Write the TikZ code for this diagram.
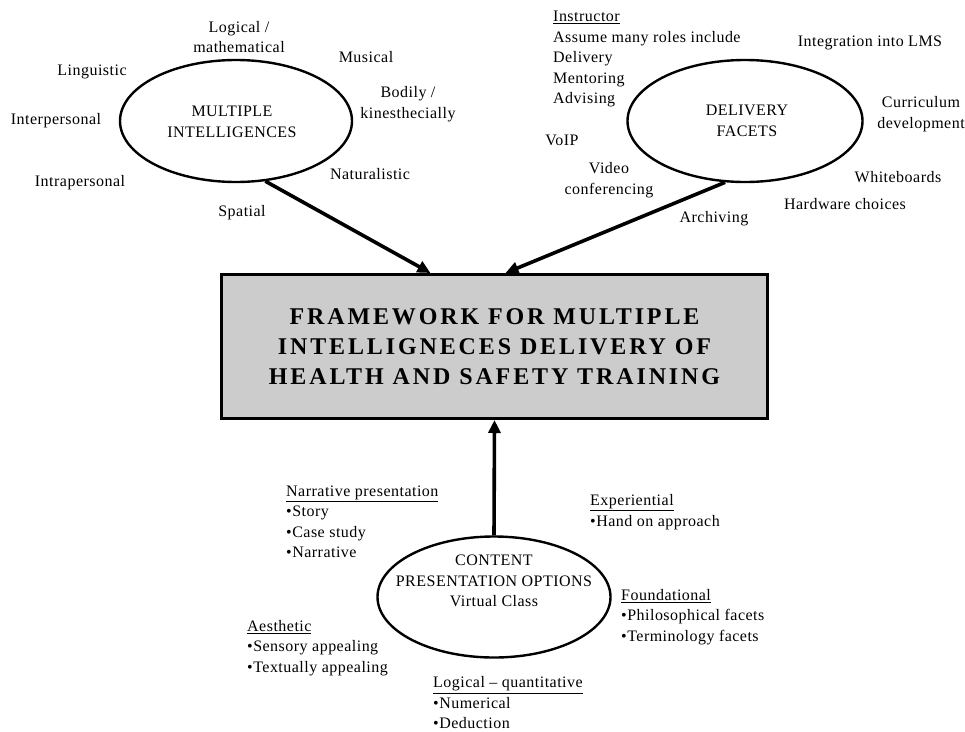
\documentclass[tikz,border=0pt]{standalone}
\usepackage{fontspec}
\setmainfont[LetterSpace=3]{Liberation Serif}
\newfontfamily\titlefont[LetterSpace=12]{Liberation Serif}
\usetikzlibrary{shapes.geometric,arrows.meta,calc}

\begin{document}
\begin{tikzpicture}[x=1pt,y=-1pt,
  txt/.style={font=\fontsize{16}{20.5}\selectfont,inner sep=0pt,align=center},
  lst/.style={txt,align=left,anchor=west},
  oval/.style={draw,ellipse,line width=2.4pt,inner sep=0pt},
  link/.style={line width=3.6pt,-{Triangle[length=13pt,width=12pt]}}]

\useasboundingbox (0,0) rectangle (965,731);

% ovals and the main box
\node[oval,minimum width=232,minimum height=122] (mi) at (236,121) {};
\node[oval,minimum width=235,minimum height=122] (df) at (745,121) {};
\node[oval,minimum width=233,minimum height=121] (cp) at (494,597) {};
\node[draw,line width=3pt,fill=black!20,minimum width=546,minimum height=144,
  inner sep=0pt,align=center,font=\titlefont\fontsize{24}{30}\selectfont\bfseries]
  (fw) at (494.5,346.5) {FRAMEWORK FOR MULTIPLE\\INTELLIGNECES DELIVERY OF\\HEALTH AND SAFETY TRAINING};

\node[txt] (mit) at (232,122) {MULTIPLE\\INTELLIGENCES};
\node[txt] (dft) at (747,121) {DELIVERY\\FACETS};
\node[txt] (cpt) at (494,581) {CONTENT\\PRESENTATION OPTIONS\\Virtual Class};

% multiple intelligences
\node[txt] (logic) at (239,37) {Logical /\\mathematical};
\node[txt] (music) at (366,57) {Musical};
\node[txt] (ling) at (92,72) {Linguistic};
\node[txt] (body) at (408,104) {Bodily /\\kinesthecially};
\node[txt] (inter) at (56,121) {Interpersonal};
\node[txt] (nat) at (370,174) {Naturalistic};
\node[txt] (intra) at (80,183) {Intrapersonal};
\node[txt] (spat) at (242,213) {Spatial};

% delivery facets
\node[lst] (instr) at (553,59) {\underline{Instructor}\\Assume many roles include\\Delivery\\Mentoring\\Advising};
\node[txt] (lms) at (870,43) {Integration into LMS};
\node[txt] (curr) at (921,114) {Curriculum\\development};
\node[txt] (voip) at (562,140) {VoIP};
\node[txt] (video) at (609,180) {Video\\conferencing};
\node[txt] (white) at (898,177) {Whiteboards};
\node[txt] (hard) at (845,204) {Hardware choices};
\node[txt] (arch) at (714,219) {Archiving};

% content presentation options
\node[lst] (narr) at (286,522) {\underline{Narrative presentation}\\\textbullet Story\\\textbullet Case study\\\textbullet Narrative};
\node[lst] (exper) at (590,512) {\underline{Experiential}\\\textbullet Hand on approach};
\node[lst] (found) at (621,617) {\underline{Foundational}\\\textbullet Philosophical facets\\\textbullet Terminology facets};
\node[lst] (aest) at (247,648) {\underline{Aesthetic}\\\textbullet Sensory appealing\\\textbullet Textually appealing};
\node[lst] (quant) at (433,703) {\underline{Logical -- quantitative}\\\textbullet Numerical\\\textbullet Deduction};

% arrows into the box
\coordinate (inl) at ($(fw.north)+(-64,0)$);
\coordinate (inr) at ($(fw.north)+(11,0)$);
\draw[link] (mi.-64) -- (inl);
\draw[link] (df.-108) -- (inr);
\draw[link] (cp.north) -- (fw.south);

\end{tikzpicture}
\end{document}
